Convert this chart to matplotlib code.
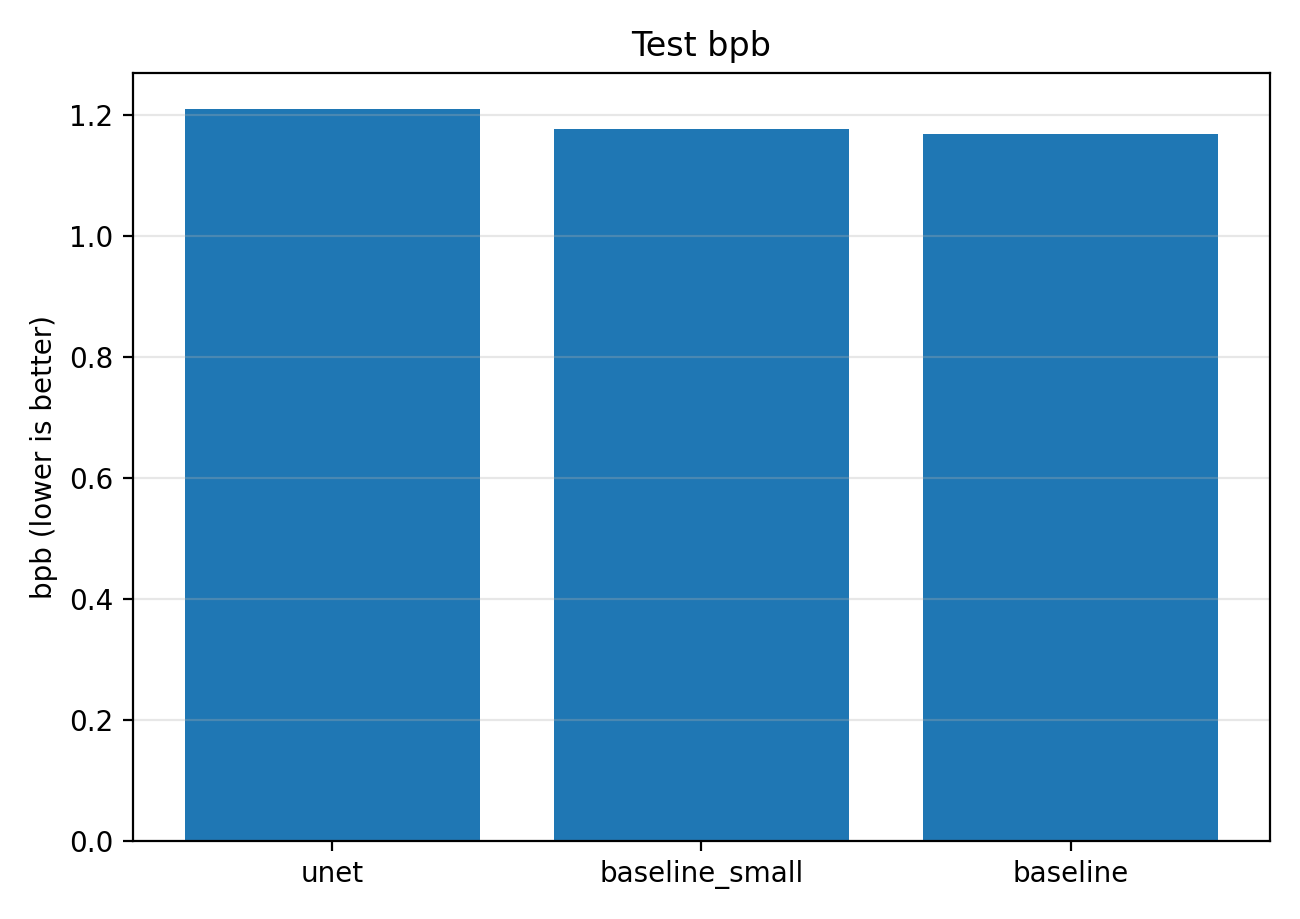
import matplotlib
matplotlib.use("Agg")
from matplotlib import pyplot as plt

# test bpb per model
models = ["unet", "baseline_small", "baseline"]
bpb = [1.209, 1.176, 1.168]

fig, ax = plt.subplots(figsize=(6.5, 4.595), dpi=200)
ax.bar(models, bpb)
ax.set_title("Test bpb")
ax.set_ylabel("bpb (lower is better)")
ax.grid(axis="y", alpha=0.3)

fig.tight_layout()
fig.savefig("out.png", dpi=200)
